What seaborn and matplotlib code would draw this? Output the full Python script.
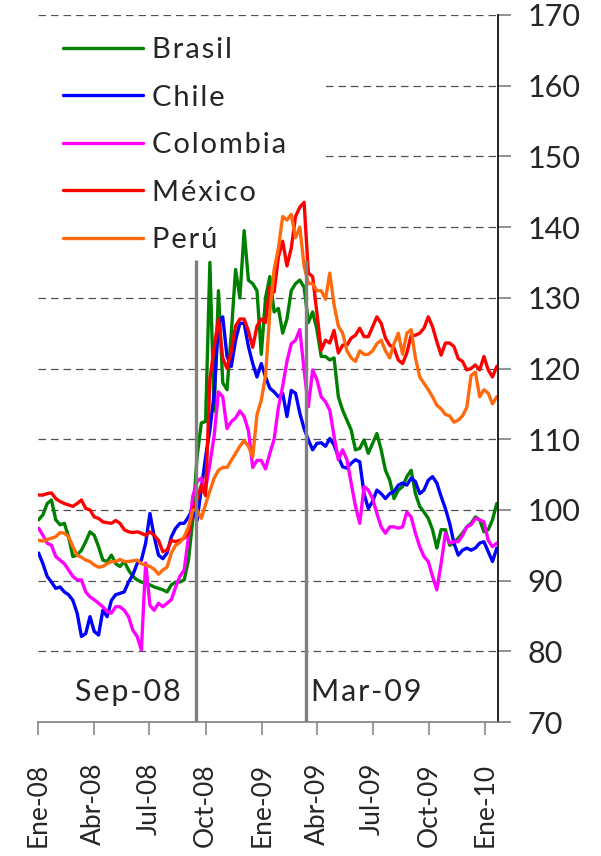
import matplotlib
matplotlib.use("Agg")
import matplotlib.pyplot as plt
import pandas as pd
import seaborn as sns
from matplotlib.lines import Line2D
from matplotlib.patches import Rectangle

# ---------------- data (weekly readings) ----------------
dates = pd.date_range("2008-01-02", periods=108, freq="7D")

brasil = [98.6, 99.3, 100.9, 101.4, 98.6, 97.9, 98.1, 96.2, 93.4, 93.6, 94.3, 95.5, 96.9, 96.4, 94.8,
          92.9, 92.7, 93.6, 92.4, 92.0, 92.7, 91.5, 90.6, 90.1, 89.8, 89.6, 89.4, 89.1, 88.9, 88.7,
          88.4, 89.4, 89.8, 89.8, 90.1, 92.9, 98.6,
          107.5, 112.3, 112.5, 135.0, 114.0, 131.0, 118.0, 117.0, 125.0, 134.0, 130.0, 139.5, 132.5,
          132.0, 131.0, 122.0, 130.0, 133.0, 128.0, 128.5, 125.0, 127.0, 131.0, 132.0, 132.5, 131.5,
          126.5, 128.0, 125.5, 121.7,
          121.7, 121.2, 121.5, 116.0, 114.1, 112.7, 111.3, 108.5, 108.7, 109.9, 108.0, 109.4, 110.8,
          108.5, 105.6, 104.2, 101.6, 102.8, 103.3, 104.7, 105.6, 102.3, 100.5, 99.7, 98.8, 97.2,
          94.6, 97.2, 97.2, 95.0, 95.3, 96.0, 96.7, 97.6, 98.1, 99.0, 98.6, 96.9, 97.2, 98.6, 100.9]

chile = [93.9, 92.4, 90.6, 89.8, 88.9, 89.1, 88.4, 88.0, 87.2, 85.4, 82.1, 82.5, 84.9, 82.8, 82.3,
         85.8, 84.9, 87.2, 88.0, 88.2, 88.4, 89.8, 90.8, 92.4, 92.9, 95.3, 99.5, 96.2, 93.6, 93.1,
         93.9, 96.2, 97.4, 98.1, 98.1, 99.0, 100.2,
         98.5, 103.0, 107.5, 111.3, 116.5, 126.4, 127.3, 121.7, 120.3, 124.0, 126.4, 126.4, 123.1,
         120.7, 118.8, 120.7, 118.8, 117.2, 116.7, 116.0, 116.5, 113.2, 116.9, 116.5, 113.7, 111.5,
         109.9, 108.5, 109.4, 109.5,
         109.0, 110.1, 109.2, 107.5, 106.1, 105.9, 106.6, 107.1, 106.8, 102.3, 100.2, 101.2, 102.8,
         102.3, 101.6, 102.3, 102.6, 103.5, 103.8, 103.5, 104.5, 104.0, 102.3, 102.8, 104.2, 104.7,
         103.8, 101.9, 100.2, 98.1, 95.3, 93.6, 94.3, 94.6, 94.3, 94.6, 95.3, 95.5, 94.1, 92.7, 94.6]

colombia = [97.4, 96.4, 95.3, 95.0, 93.4, 92.9, 92.4, 91.5, 90.6, 90.1, 90.1, 88.4, 87.7, 87.3, 86.8,
            86.3, 85.6, 85.4, 86.3, 86.3, 85.8, 84.9, 83.0, 82.1, 80.2, 92.5, 86.5, 85.8, 86.8, 86.3,
            86.8, 87.3, 89.1, 90.6, 91.5, 96.2, 101.9,
            104.0, 104.5, 103.0, 106.5, 110.5, 116.7, 116.0, 111.5, 112.5, 113.0, 114.0, 113.2, 111.2,
            106.0, 107.0, 107.0, 105.8, 108.0, 110.0, 114.5, 117.5, 121.0, 123.5, 124.0, 125.5, 119.8,
            114.6, 119.8, 118.4, 116.0,
            115.3, 114.1, 110.4, 107.1, 108.5, 107.1, 103.8, 100.5, 98.1, 103.3, 102.8, 101.6, 99.5,
            97.6, 96.7, 97.6, 97.6, 97.4, 97.6, 99.7, 99.0, 96.7, 94.8, 93.4, 92.7, 90.6, 88.7, 92.4,
            96.7, 95.3, 95.5, 95.5, 96.4, 97.6, 97.9, 98.8, 98.6, 98.3, 95.7, 94.8, 95.3]

mexico = [102.1, 102.1, 102.3, 102.4, 101.6, 101.2, 100.9, 100.7, 100.5, 100.9, 101.4, 100.2, 100.0,
          99.0, 98.8, 98.3, 98.2, 98.1, 98.5, 98.1, 97.2, 96.9, 96.8, 96.9, 96.7, 96.4, 96.9, 96.4,
          95.7, 94.1, 94.3, 95.7, 95.5, 95.7, 96.0, 96.7, 100.0,
          101.5, 103.5, 102.0, 118.5, 123.0, 127.0, 121.5, 120.0, 122.5, 126.0, 127.0, 127.0, 125.3,
          123.0, 126.0, 127.0, 126.5, 131.5, 130.8, 135.8, 138.0, 134.5, 137.0, 141.5, 142.8, 143.5,
          133.5, 133.0, 127.8, 122.6,
          124.0, 123.6, 125.4, 122.2, 123.3, 123.3, 124.3, 124.7, 125.7, 124.5, 124.5, 125.9, 127.3,
          126.4, 124.3, 123.3, 122.9, 121.2, 120.7, 122.2, 124.7, 124.7, 125.0, 125.7, 127.3, 125.9,
          123.8, 121.9, 123.6, 123.6, 123.1, 121.4, 121.0, 119.8, 120.0, 120.5, 119.8, 121.7, 119.8,
          118.8, 120.3]

peru = [95.7, 95.6, 95.8, 96.0, 96.2, 96.8, 96.7, 96.2, 94.8, 93.6, 93.3, 92.9, 92.7, 92.2, 91.9,
        92.0, 92.4, 92.7, 92.7, 93.0, 92.7, 92.7, 92.8, 92.9, 92.4, 92.2, 92.0, 91.6, 90.9, 91.5,
        91.9, 93.9, 95.0, 95.4, 96.2, 97.6, 100.0,
        100.0, 98.8, 100.8, 102.7, 104.5, 105.6, 106.0, 106.0, 107.0, 108.0, 109.0, 109.8, 109.0,
        107.5, 113.5, 115.5, 119.0, 128.0, 134.0, 137.0, 141.5, 141.0, 141.8, 138.5, 140.0, 134.5,
        132.0, 132.0, 131.0, 131.0,
        129.8, 133.5, 129.0, 126.0, 125.0, 122.5, 121.5, 121.0, 122.5, 122.0, 122.0, 122.5, 123.5,
        124.0, 122.5, 121.5, 123.5, 125.0, 122.0, 125.0, 125.5, 121.5, 118.8, 117.9, 117.0, 116.0,
        114.8, 114.3, 113.5, 113.3, 112.4, 112.7, 113.3, 114.5, 119.0, 119.5, 116.0, 117.0, 116.5,
        115.0, 116.0]

countries = ["Brasil", "Chile", "Colombia", "México", "Perú"]
colors = ["#008000", "#0000FF", "#FF00FF", "#FF0000", "#FF6A0D"]

tick_dates = ["2008-01-01", "2008-04-01", "2008-07-01", "2008-10-01", "2009-01-01",
              "2009-04-01", "2009-07-01", "2009-10-01", "2010-01-01"]
tick_labels = ["Ene-08", "Abr-08", "Jul-08", "Oct-08", "Ene-09",
               "Abr-09", "Jul-09", "Oct-09", "Ene-10"]
y_ticks = [70, 80, 90, 100, 110, 120, 130, 140, 150, 160, 170]

event_dates = ["2008-09-16", "2009-03-14"]
event_labels = ["Sep-08", "Mar-09"]


def spaced(text):
    # mimic the letter spacing of the original rendering with hair spaces
    return "\u200a".join(text)


# ---------------- build frame ----------------
series = [brasil, chile, colombia, mexico, peru]
df = pd.concat([pd.DataFrame({"date": dates, "value": s, "country": c})
                for c, s in zip(countries, series)], ignore_index=True)

sns.set_style("white")
plt.rcParams["font.family"] = ["Lato", "DejaVu Sans"]

fig = plt.figure(figsize=(6.01, 8.56), dpi=100)
ax = fig.add_axes([38 / 601, (856 - 722) / 856, 460 / 601, 707 / 856])

sns.lineplot(data=df, x="date", y="value", hue="country", hue_order=countries,
             palette=dict(zip(countries, colors)), linewidth=2.4, estimator=None,
             legend=False, ax=ax, zorder=2)

ax.set_xlim(pd.Timestamp("2008-01-01"), pd.Timestamp("2010-01-22"))
ax.set_ylim(70, 170)
ax.set_xlabel("")
ax.set_ylabel("")

# axes styling
ax.yaxis.tick_right()
ax.set_yticks(y_ticks)
ax.set_yticklabels([str(v) for v in y_ticks])
ax.set_xticks(pd.to_datetime(tick_dates))
ax.set_xticklabels(tick_labels, rotation=90)

for s in ["left", "top"]:
    ax.spines[s].set_visible(False)
ax.spines["right"].set_color("black")
ax.spines["right"].set_linewidth(1.2)
ax.spines["bottom"].set_color("#808080")
ax.spines["bottom"].set_linewidth(1.2)

ax.tick_params(axis="x", direction="out", length=9.5, width=1.1, color="#808080",
               pad=20, labelsize=19, bottom=True)
ax.tick_params(axis="y", direction="out", length=9, width=1.2, color="#808080",
               pad=12, labelsize=22, right=True, left=False)

ax.set_axisbelow(True)
ax.yaxis.grid(True, color="#505050", linestyle=(0, (6, 4)), linewidth=0.9)
ax.xaxis.grid(False)

# white box behind legend (hides gridlines)
ax.add_patch(Rectangle((0, 0.646), 0.615, 0.347, transform=ax.transAxes,
                       facecolor="white", edgecolor="none", zorder=1))

# event lines
ax.vlines(pd.to_datetime(event_dates), 70, 135.3, color="#808080", linewidth=2.4, zorder=3)
ax.text(0.1946, 0.043, spaced(event_labels[0]), transform=ax.transAxes, ha="center",
        va="center", fontsize=22)
ax.text(0.714, 0.043, spaced(event_labels[1]), transform=ax.transAxes, ha="center",
        va="center", fontsize=22)

# legend
handles = [Line2D([0], [0], color=c, lw=2.4) for c in colors]
leg = ax.legend(handles, [spaced(c) for c in countries], loc="upper left",
                bbox_to_anchor=(0.054, 0.969),
                frameon=False, fontsize=21, handlelength=2.74, handletextpad=0.31,
                labelspacing=0.74, borderpad=0, borderaxespad=0)

fig.savefig("out.png", dpi=100)
